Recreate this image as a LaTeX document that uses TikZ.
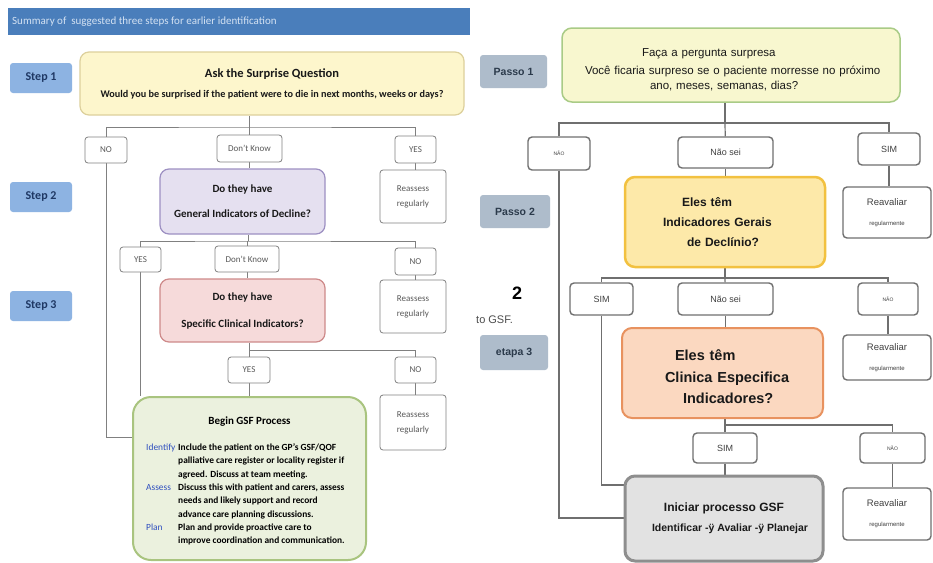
\documentclass[tikz,border=0pt]{standalone}
\usepackage{fontspec}
\setmainfont{Carlito}
\newfontfamily\arialfont{Liberation Sans}
\usetikzlibrary{backgrounds}

\definecolor{barblue}{HTML}{4A7EBB}
\definecolor{barink}{HTML}{D3E1F2}
\definecolor{stepblue}{HTML}{8DB3E2}
\definecolor{stepink}{HTML}{1F3864}
\definecolor{askfill}{HTML}{FDF6CC}
\definecolor{askline}{HTML}{DDD09C}
\definecolor{genfill}{HTML}{E5E0F0}
\definecolor{genline}{HTML}{9D90C2}
\definecolor{specfill}{HTML}{F6DADA}
\definecolor{specline}{HTML}{CE8A8A}
\definecolor{gsffill}{HTML}{EBF1DE}
\definecolor{gsfline}{HTML}{A9C47F}
\definecolor{labblue}{HTML}{2F4FBF}
\definecolor{wireleft}{HTML}{808080}
\definecolor{passofill}{HTML}{AEBCCB}
\definecolor{passoink}{HTML}{2B3A4B}
\definecolor{facafill}{HTML}{F8F7CF}
\definecolor{facaline}{HTML}{A9CB86}
\definecolor{geraisfill}{HTML}{FDE9A9}
\definecolor{geraisline}{HTML}{F2C140}
\definecolor{clinfill}{HTML}{FBD8C0}
\definecolor{clinline}{HTML}{E8925F}
\definecolor{inifill}{HTML}{E2E2E2}
\definecolor{iniline}{HTML}{8E8E8E}
\definecolor{wireright}{HTML}{6F6F6F}

\begin{document}
\begin{tikzpicture}[x=1pt, y=-1pt,
stepbox/.style={rectangle, rounded corners=3pt, fill=stepblue, text=stepink, font=\bfseries\fontsize{12}{13}\selectfont, minimum width=62, minimum height=30, inner sep=0pt},
tagbox/.style={rectangle, rounded corners=3pt, draw=wireleft, fill=white, line width=0.8pt, text=black!65, font=\fontsize{9}{15}\selectfont, inner sep=0pt, align=center},
mainbox/.style={rectangle, rounded corners=9pt, line width=1.2pt, inner sep=0pt, align=center, text=black!90},
passobox/.style={rectangle, rounded corners=3pt, fill=passofill, text=passoink, font=\arialfont\bfseries\fontsize{10.5}{12}\selectfont, minimum width=67, minimum height=33, inner sep=0pt},
rtagbox/.style={rectangle, rounded corners=4pt, draw=wireright, fill=white, line width=1.4pt, text=black!75, font=\arialfont\fontsize{9}{11}\selectfont, inner sep=0pt},
reavbox/.style={rtagbox, minimum width=88, align=center, font=\arialfont\fontsize{9.5}{20}\selectfont},
rbox/.style={rectangle, rounded corners=10pt, inner sep=0pt, align=left, text=black!90},
leftwire/.style={draw=wireleft, line width=0.8pt},
rightwire/.style={draw=wireright, line width=1.2pt}
]
\useasboundingbox (0,0) rectangle (933,562);
%Left chart
\node[anchor=north west, fill=barblue, minimum width=462, minimum height=27, inner sep=0pt] (bar) at (8,8) {};
\node[anchor=west, text=barink, font=\fontsize{11}{12}\selectfont, inner sep=0pt] (bartext) at (12,22) {Summary of\ \ suggested three steps for earlier identification};
\node[stepbox] (step1) at (41,78) {Step 1};
\node[stepbox] (step2) at (41,197) {Step 2};
\node[stepbox] (step3) at (41,306) {Step 3};
\node[mainbox, fill=askfill, draw=askline, minimum width=384, minimum height=63, font=\bfseries\fontsize{10.2}{11}\selectfont] (ask) at (272,83.5)
  {{\fontsize{12.5}{14}\selectfont Ask the Surprise Question}\\[9pt]Would you be surprised if the patient were to die in next months, weeks or days?};
\node[tagbox, minimum width=42, minimum height=26] (no1)  at (106,150)     {NO};
\node[tagbox, minimum width=65, minimum height=27] (dk1)  at (249.5,148.5) {Don't Know};
\node[tagbox, minimum width=41, minimum height=27] (yes1) at (415.5,149.5) {YES};
\node[mainbox, fill=genfill, draw=genline, minimum width=165, minimum height=65, font=\bfseries\fontsize{11}{12}\selectfont] (gen) at (242.5,201.5)
  {Do they have\\[13pt]General Indicators of Decline?};
\node[tagbox, minimum width=66, minimum height=53] (rr1) at (413,196.5) {Reassess\\regularly};
\node[tagbox, minimum width=41, minimum height=25] (yes2) at (140.5,259.5) {YES};
\node[tagbox, minimum width=64, minimum height=26] (dk2)  at (247,259)     {Don't Know};
\node[tagbox, minimum width=41, minimum height=27] (no2)  at (415.5,261.5) {NO};
\node[mainbox, fill=specfill, draw=specline, minimum width=165, minimum height=63, font=\bfseries\fontsize{11}{12}\selectfont] (spec) at (242.5,310.5)
  {Do they have\\[15pt]Specific Clinical Indicators?};
\node[tagbox, minimum width=66, minimum height=53] (rr2) at (413,306.5) {Reassess\\regularly};
\node[tagbox, minimum width=42, minimum height=26] (yes3) at (249,370)   {YES};
\node[tagbox, minimum width=41, minimum height=26] (no3)  at (415.5,370) {NO};
\node[tagbox, minimum width=66, minimum height=55] (rr3)  at (413,422.5) {Reassess\\regularly};
\node[mainbox, fill=gsffill, draw=gsfline, line width=2pt, rounded corners=18pt, minimum width=233, minimum height=163] (gsf) at (249.5,478.5) {};
\node[font=\bfseries\fontsize{11}{12}\selectfont, inner sep=0pt] (gsftitle) at (249.5,422) {Begin GSF Process};
\node[anchor=north west, inner sep=0pt, font=\bfseries\fontsize{9.4}{13.3}\selectfont] (gsfbody) at (146,441)
  {\begin{tabular}{@{}p{32pt}@{}l@{}}
   \textcolor{labblue}{\mdseries Identify} & Include the patient on the GP's GSF/QOF\\
    & palliative care register or locality register if\\
    & agreed. Discuss at team meeting.\\
   \textcolor{labblue}{\mdseries Assess} & Discuss this with patient and carers, assess\\
    & needs and likely support and record\\
    & advance care planning discussions.\\
   \textcolor{labblue}{\mdseries Plan} & Plan and provide proactive care to\\
    & improve coordination and communication.
   \end{tabular}};
%Right chart
\node[passobox] (passo1) at (513.5,71.5) {Passo 1};
\node[passobox, minimum width=70] (passo2) at (515,211.5) {Passo 2};
\node[passobox, minimum width=68, minimum height=35] (etapa3) at (514,352.5) {etapa 3};
\node[font=\arialfont\bfseries\fontsize{18}{20}\selectfont, inner sep=0pt] (two) at (517,293) {2};
\node[anchor=west, font=\arialfont\fontsize{11}{12}\selectfont, text=black!70, inner sep=0pt] (togsf) at (476,320) {to GSF.};
\node[rbox, fill=facafill, draw=facaline, line width=1.5pt, minimum width=338, minimum height=74, text width=338, font=\arialfont\fontsize{11.5}{16}\selectfont] (faca) at (731,65)
  {\hspace*{80pt}\rule{0pt}{17pt}Faça a pergunta surpresa\\[2pt]\hspace*{23pt}Você ficaria surpreso se o paciente morresse no próximo\\[-1pt]\hspace*{88pt}ano, meses, semanas, dias?};
\node[rtagbox, minimum width=62, minimum height=33, font=\arialfont\fontsize{5}{6}\selectfont] (naor1) at (559,153.5) {NÃO};
\node[rtagbox, minimum width=95, minimum height=31] (naosei1) at (725.5,152.5) {Não sei};
\node[rtagbox, minimum width=62, minimum height=32] (sim1) at (889,149) {SIM};
\node[rbox, fill=geraisfill, draw=geraisline, line width=2.5pt, minimum width=200, minimum height=90, text width=200, font=\arialfont\bfseries\fontsize{12}{20}\selectfont] (gerais) at (725,222)
  {\hspace*{57pt}Eles têm\\\hspace*{38pt}Indicadores Gerais\\\hspace*{62pt}de Declínio?};
\node[reavbox, minimum height=51] (reav1) at (887,212.5) {Reavaliar\\{\fontsize{6}{7}\selectfont regularmente}};
\node[rtagbox, minimum width=63, minimum height=32] (simr2) at (601.5,299) {SIM};
\node[rtagbox, minimum width=95, minimum height=32] (naosei2) at (725.5,299) {Não sei};
\node[rtagbox, minimum width=60, minimum height=32, font=\arialfont\fontsize{5}{6}\selectfont] (naor2) at (888,299) {NÃO};
\node[rbox, fill=clinfill, draw=clinline, line width=2pt, minimum width=201, minimum height=90, text width=201, font=\arialfont\bfseries\fontsize{14.5}{21.5}\selectfont] (clin) at (722.5,373)
  {\hspace*{53pt}\rule{0pt}{19pt}Eles têm\\\hspace*{43pt}Clinica Especifica\\\hspace*{61pt}Indicadores?};
\node[reavbox, minimum height=45] (reav2) at (887,357.5) {Reavaliar\\{\fontsize{6}{7}\selectfont regularmente}};
\node[rtagbox, minimum width=64, minimum height=30] (simr3) at (725,448) {SIM};
\node[rtagbox, minimum width=65, minimum height=30, font=\arialfont\fontsize{5}{6}\selectfont] (naor3) at (892.5,448) {NÃO};
\node[rbox, fill=inifill, draw=iniline, line width=3pt, minimum width=198, minimum height=85, align=center, font=\arialfont\bfseries\fontsize{10.5}{20}\selectfont] (iniciar) at (724,518.5)
  {{\fontsize{12}{14}\selectfont Iniciar processo GSF}\\\hspace*{12pt}Identificar -ÿ Avaliar -ÿ Planejar};
\node[reavbox, minimum height=52] (reav3) at (887,514) {Reavaliar\\{\fontsize{6}{7}\selectfont regularmente}};
%Lines
\coordinate (b1) at (249.5,127);
\coordinate (b2) at (248,241);
\coordinate (b3) at (249,350);
\coordinate (nojoin) at (106,437);
\coordinate (r1) at (725,123);
\coordinate (r2) at (725,278);
\coordinate (r3) at (725,425);
\coordinate (naojoin) at (559,518);
\coordinate (simjoin) at (601.5,485);
\begin{pgfonlayer}{background}
\fill[white] (0,0) rectangle (933,562);
\draw[leftwire] (b1) -- (b1 |- ask.south);
\draw[leftwire] (no1.north) |- (b1) -| (yes1.north);
\draw[leftwire] (dk1) -- (b1);
\draw[leftwire] (dk1) -- (dk1 |- gen.north);
\draw[leftwire] (yes1) -- (yes1 |- rr1.north);
\draw[leftwire] (no1) -- (nojoin) -- (nojoin -| gsf.west);
\draw[leftwire] (b2) -- (b2 |- gen.south);
\draw[leftwire] (yes2.north) |- (b2) -| (no2.north);
\draw[leftwire] (dk2) -- (dk2 |- b2);
\draw[leftwire] (dk2) -- (dk2 |- spec.north);
\draw[leftwire] (yes2) -- (yes2 |- gsf.north);
\draw[leftwire] (no2) -- (no2 |- rr2.north);
\draw[leftwire] (b3) -- (b3 |- spec.south);
\draw[leftwire] (yes3.north) -- (b3) -| (no3.north);
\draw[leftwire] (yes3) -- (yes3 |- gsf.north);
\draw[leftwire] (no3) -- (no3 |- rr3.north);
\draw[rightwire] (r1) -- (r1 |- faca.south);
\draw[rightwire] (naor1.north) |- (r1) -| (sim1.north);
\draw[rightwire] (naosei1) -- (r1);
\draw[rightwire] (naosei1) -- (naosei1 |- gerais.north);
\draw[rightwire] (sim1) -- (sim1 |- reav1.north);
\draw[rightwire] (naor1) -- (naojoin) -- (naojoin -| iniciar.west);
\draw[rightwire] (r2) -- (r2 |- gerais.south);
\draw[rightwire] (simr2.north) |- (r2) -| (naor2.north);
\draw[rightwire] (naosei2) -- (r2);
\draw[rightwire] (naosei2) -- (naosei2 |- clin.north);
\draw[rightwire] (naor2) -- (naor2 |- reav2.north);
\draw[rightwire] (simr2) -- (simjoin) -- (simjoin -| iniciar.west);
\draw[rightwire] (r3) -- (r3 |- clin.south);
\draw[rightwire] (simr3.north) -- (r3) -| (naor3.north);
\draw[rightwire] (simr3) -- (simr3 |- iniciar.north);
\draw[rightwire] (naor3) -- (naor3 |- reav3.north);
\end{pgfonlayer}
\end{tikzpicture}
\end{document}
